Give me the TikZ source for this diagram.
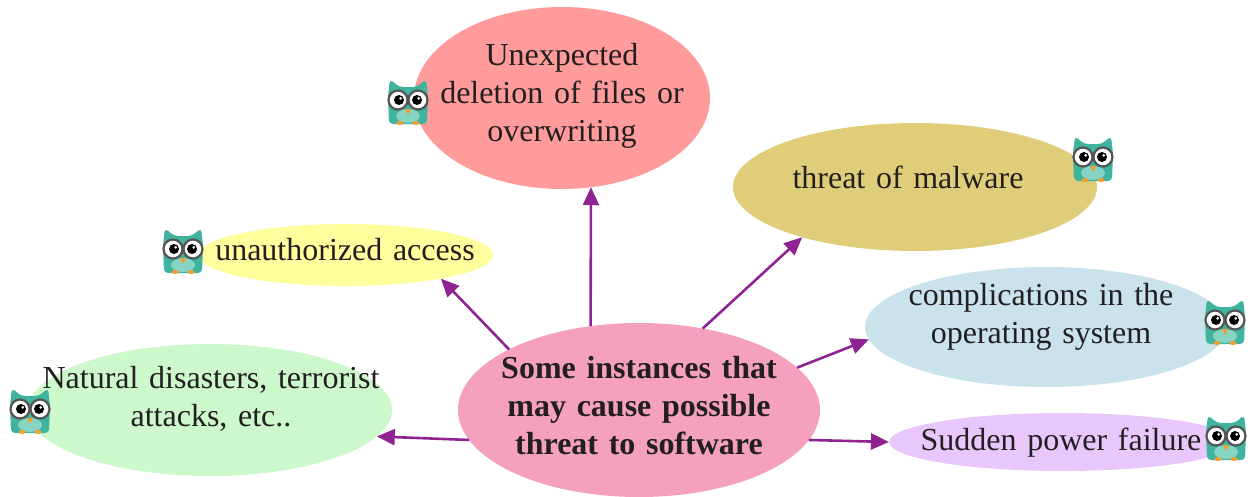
\documentclass[tikz,border=0pt]{standalone}
\usepackage{fontspec}
\setmainfont{Liberation Serif}
\usetikzlibrary{shapes.geometric,arrows.meta}

\definecolor{cRed}{HTML}{FF9B9A}
\definecolor{cOlive}{HTML}{DFCD7A}
\definecolor{cYellow}{HTML}{FEFE9C}
\definecolor{cBlue}{HTML}{CAE2EC}
\definecolor{cGreen}{HTML}{CCF8CC}
\definecolor{cPink}{HTML}{F4A0BE}
\definecolor{cLilac}{HTML}{E9C7FC}
\definecolor{arrowpurple}{HTML}{8E2391}
\definecolor{inkgray}{HTML}{231F20}
\definecolor{owlbody}{HTML}{3FB39E}
\definecolor{owlbelly}{HTML}{86D5C4}
\definecolor{owlring}{HTML}{555555}
\definecolor{owlbeak}{HTML}{F0A030}

\tikzset{
  blob/.style={ellipse, inner sep=0pt, outer sep=0pt, draw=none},
  txt/.style={inner sep=0pt, anchor=base, align=center, text=inkgray,
              font=\fontsize{32}{38}\selectfont},
  arr/.style={draw=arrowpurple, line width=2.6pt,
              -{Triangle[length=18pt,width=16pt]}},
  owl/.pic={
    % body with two ear tufts
    \fill[owlbody, rounded corners=4pt]
      (-19,22) -- (-20,-6) -- (-18,-23) -- (-9,-15) -- (9,-15)
      -- (18,-23) -- (20,-6) -- (19,22) -- cycle;
    \fill[owlbelly] (0,14) ellipse (12pt and 7pt);
    % glasses and eyes
    \foreach \s in {-1,1} {
      \path[fill=white, draw=owlring, line width=2.2pt] (\s*10,-2) circle (9.5pt);
      \fill[black] (\s*9,-2) circle (5pt);
      \fill[white] (\s*9+1.7,-3.7) circle (1.5pt);
    }
    % beak and feet
    \fill[owlbeak] (-3,7) -- (3,7) -- (0,13) -- cycle;
    \fill[owlbeak] (-8,21) ellipse (3.5pt and 2pt);
    \fill[owlbeak] (8,21) ellipse (3.5pt and 2pt);
  }
}

\begin{document}
\begin{tikzpicture}[x=1pt, y=-1pt]
\useasboundingbox (0,0) rectangle (1256,496);

% ellipses
\node[blob, fill=cRed,    minimum width=296pt, minimum height=182pt] (T) at (562,98)  {};
\node[blob, fill=cOlive,  minimum width=364pt, minimum height=128pt] (M) at (915,187) {};
\node[blob, fill=cYellow, minimum width=294pt, minimum height=62pt]  (U) at (346,255) {};
\node[blob, fill=cBlue,   minimum width=362pt, minimum height=120pt] (K) at (1046,327) {};
\node[blob, fill=cGreen,  minimum width=364pt, minimum height=132pt] (N) at (210,410) {};
\node[blob, fill=cPink,   minimum width=362pt, minimum height=174pt] (C) at (639,410) {};
\node[blob, fill=cLilac,  minimum width=346pt, minimum height=58pt]  (S) at (1062,442) {};

% labels
\node[txt, text width=300pt] (Tt) at (562,65)  {Unexpected\\deletion of files or\\overwriting};
\node[txt, text width=300pt] (Mt) at (908,188) {threat of malware};
\node[txt, text width=300pt] (Ut) at (345,260) {unauthorized access};
\node[txt, text width=320pt] (Kt) at (1041,305) {complications in the\\operating system};
\node[txt, text width=360pt] (Nt) at (211,388) {Natural disasters, terrorist\\attacks, etc..};
\node[txt, text width=330pt, font=\fontsize{32}{38}\selectfont\bfseries] (Ct) at (639,378)
  {Some instances that\\may cause possible\\threat to software};
\node[txt, text width=300pt] (St) at (1061,450) {Sudden power failure};

% connectors
\draw[arr] (C.120) -- (T.-72);
\draw[arr] (C.155) -- (U.-14);
\draw[arr] (C.52)  -- (M.204);
\draw[arr] (C.15)  -- (K.184);
\draw[arr] (C.190) -- (N.-9);
\draw[arr] (C.-10) -- (S.180);

% owl icons
\pic at (408,102)  {owl};
\pic at (1093,159) {owl};
\pic at (183,251)  {owl};
\pic at (1225,322) {owl};
\pic at (30,411)   {owl};
\pic at (1226,438) {owl};
\end{tikzpicture}
\end{document}
